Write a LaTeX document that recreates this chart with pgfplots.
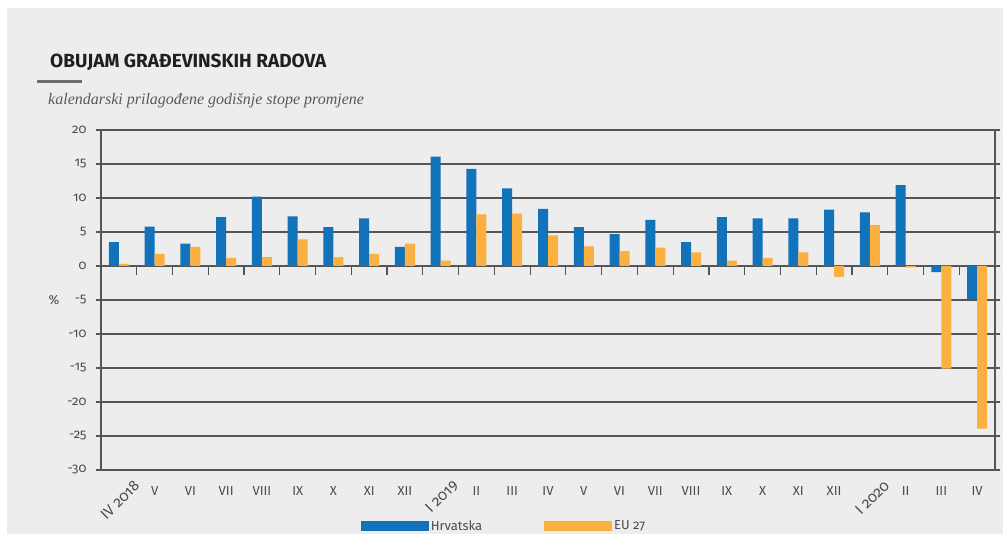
\documentclass[border=0pt]{standalone}
\usepackage{fontspec}
\setmainfont{Fira Sans}[Numbers=OldStyle]
\newfontfamily\subfont{Liberation Serif}
\usepackage{pgfplots}
\pgfplotsset{compat=1.18}
\definecolor{bgcol}{HTML}{EDEDED}
\definecolor{gridcol}{HTML}{555555}
\definecolor{hrblue}{HTML}{1272BA}
\definecolor{euorange}{HTML}{FBB040}
\definecolor{labcol}{HTML}{4A4A52}
\begin{document}
\begin{tikzpicture}[x=1pt,y=1pt]
\useasboundingbox (0,0) rectangle (1005,534);
\fill[white] (0,0) rectangle (1005,534);
\fill[bgcol] (7,0) rectangle (1003,526);
% title
\node[anchor=base west, inner sep=0, text=black!88] at (50,466) {\fontsize{19}{22}\selectfont\bfseries OBUJAM GRAĐEVINSKIH RADOVA};
\fill[gray!85!black] (37,451) rectangle (82,454);
\node[anchor=base west, inner sep=0, text=black!65] at (48,429) {\fontsize{16}{19}\selectfont\subfont\itshape kalendarski prilagođene godišnje stope promjene};
\begin{axis}[
  at={(101pt,64pt)}, anchor=south west,
  width=894pt, height=340pt, scale only axis,
  xmin=-0.5, xmax=24.5, ymin=-30, ymax=20,
  ytick={-30,-25,...,20},
  xtick={0,...,24},
  xticklabels={,V,VI,VII,VIII,IX,X,XI,XII,,II,III,IV,V,VI,VII,VIII,IX,X,XI,XII,,II,III,IV},
  xtick style={draw=none},
  ytick style={gridcol, line width=1.2pt},
  major tick length=5pt,
  tick align=outside,
  ymajorgrids,
  grid style={gridcol, line width=1.2pt},
  axis line style={gridcol, line width=1.2pt},
  /pgf/number format/assume math mode=true,
  tick label style={font=\fontsize{13}{15}\selectfont, text=labcol},
  x tick label style={anchor=north, yshift=-8pt},
  y tick label style={xshift=-6pt},
  ybar=0pt, bar width=10pt,
  clip=false,
  legend style={at={(0.287,-0.165)}, anchor=west, draw=none, fill=none,
    legend columns=2, font=\fontsize{13}{15}\selectfont, text=labcol,
    /tikz/every even column/.append style={column sep=60pt}},
  legend image code/.code={\fill[#1] (0pt,-5pt) rectangle (68pt,5pt);},
]
\addplot[fill=hrblue, draw=none] coordinates {
(0,3.5) (1,5.8) (2,3.3) (3,7.2) (4,10.2) (5,7.3) (6,5.7) (7,7.0) (8,2.8)
(9,16.1) (10,14.3) (11,11.4) (12,8.4) (13,5.7) (14,4.7) (15,6.8) (16,3.5)
(17,7.2) (18,7.0) (19,7.0) (20,8.3) (21,7.9) (22,11.9) (23,-0.9) (24,-4.9)};
\addplot[fill=euorange, draw=none] coordinates {
(0,0.3) (1,1.8) (2,2.8) (3,1.2) (4,1.3) (5,3.9) (6,1.3) (7,1.8) (8,3.3)
(9,0.8) (10,7.6) (11,7.7) (12,4.5) (13,2.9) (14,2.2) (15,2.7) (16,2.0)
(17,0.8) (18,1.2) (19,2.0) (20,-1.6) (21,6.0) (22,-0.2) (23,-15.1) (24,-23.9)};
\legend{Hrvatska, EU 27}
\pgfplotsinvokeforeach{0.5,1.5,2.5,3.5,4.5,5.5,6.5,7.5,8.5,9.5,10.5,11.5,12.5,13.5,14.5,15.5,16.5,17.5,18.5,19.5,20.5,21.5,22.5,23.5}{
  \draw[gridcol, line width=1.2pt] (axis cs:#1,0) -- ([yshift=-9pt]axis cs:#1,0);
}
\node[rotate=45, anchor=east, inner sep=0, text=labcol, font=\fontsize{15}{17}\selectfont] at ([xshift=18pt,yshift=-13pt]axis cs:0,-30) {IV 2018};
\node[rotate=45, anchor=east, inner sep=0, text=labcol, font=\fontsize{15}{17}\selectfont] at ([xshift=15pt,yshift=-13pt]axis cs:9,-30) {I 2019};
\node[rotate=45, anchor=east, inner sep=0, text=labcol, font=\fontsize{15}{17}\selectfont] at ([xshift=17pt,yshift=-13pt]axis cs:21,-30) {I 2020};
\node[text=labcol, font=\fontsize{13}{15}\selectfont, anchor=center] at ([xshift=-47pt]axis cs:-0.5,-5) {\%};
\end{axis}
\end{tikzpicture}
\end{document}
